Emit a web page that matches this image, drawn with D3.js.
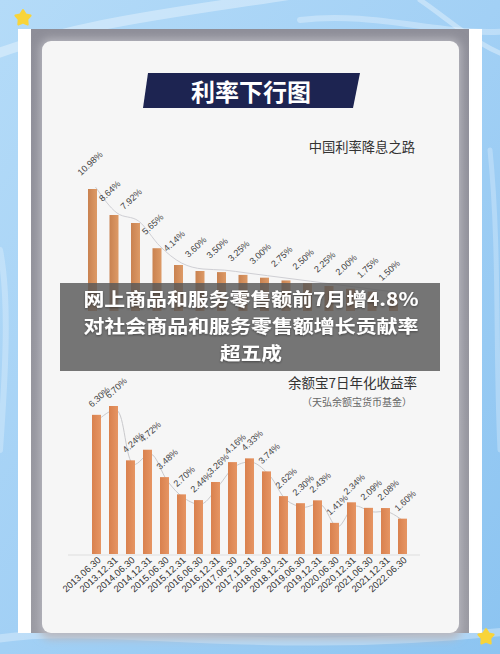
<!DOCTYPE html>
<html><head><meta charset="utf-8">
<script src="https://cdn.jsdelivr.net/npm/d3@7"></script>
<style>html,body{margin:0;padding:0;background:#a9d4f6;}svg{display:block;}</style>
</head><body>
<script>
// ---- data ----
const rateTitle = "中国利率降息之路";
const rateValues = [10.98, 8.64, 7.92, 5.65, 4.14, 3.60, 3.50, 3.25, 3.00, 2.75, 2.50, 2.25, 2.00, 1.75, 1.50];
const yebTitle = "余额宝7日年化收益率";
const yebSubtitle = "（天弘余额宝货币基金）";
const yebDates = ["2013.06.30","2013.12.31","2014.06.30","2014.12.31","2015.06.30","2015.12.31","2016.06.30","2016.12.31","2017.06.30","2017.12.31","2018.06.30","2018.12.31","2019.06.30","2019.12.31","2020.06.30","2020.12.31","2021.06.30","2021.12.31","2022.06.30"];
const yebValues = [6.30, 6.70, 4.24, 4.72, 3.48, 2.70, 2.44, 3.26, 4.16, 4.33, 3.74, 2.62, 2.30, 2.43, 1.41, 2.34, 2.09, 2.08, 1.60];
const bannerText = "利率下行图";
const overlayLines = ["网上商品和服务零售额前7月增4.8%", "对社会商品和服务零售额增长贡献率", "超五成"];
const overlayWidths = [335, 335, 62];

const W = 500, H = 654;
const svg = d3.select("body").append("svg").attr("width", W).attr("height", H);
const defs = svg.append("defs");

// background gradient
const bg = defs.append("linearGradient").attr("id","bg").attr("x1",0).attr("y1",0).attr("x2",1).attr("y2",1);
bg.append("stop").attr("offset","0%").attr("stop-color","#b4dbf8");
bg.append("stop").attr("offset","50%").attr("stop-color","#a2d0f5");
bg.append("stop").attr("offset","100%").attr("stop-color","#8cc4f1");
svg.append("rect").attr("width",W).attr("height",H).attr("fill","url(#bg)");
// streaks
const streaks = svg.append("g").attr("fill","none").attr("stroke","#ffffff").attr("stroke-linecap","round");
[["M-20,60 C80,20 200,10 320,-10",0.35,10],["M300,20 C380,10 450,40 520,30",0.3,6],["M420,0 C450,20 480,50 520,60",0.35,5],
 ["M-10,640 C100,620 250,660 520,630",0.3,8],["M0,250 C10,300 5,380 0,450",0.25,6],["M490,150 C500,250 495,350 500,450",0.25,5]]
 .forEach(([d,o,w])=>streaks.append("path").attr("d",d).attr("stroke-opacity",o).attr("stroke-width",w));

// white card
svg.append("rect").attr("x",18).attr("y",29).attr("width",464).attr("height",604).attr("fill","#ffffff");
// gray frame
const fr = defs.append("linearGradient").attr("id","frame").attr("x1",0).attr("y1",0).attr("x2",0).attr("y2",1);
fr.append("stop").attr("offset","0%").attr("stop-color","#8e8e98");
fr.append("stop").attr("offset","100%").attr("stop-color","#9a9aa2");
svg.append("rect").attr("x",31).attr("y",29).attr("width",438).attr("height",604).attr("fill","url(#frame)");
const sh = defs.append("filter").attr("id","sh").attr("x","-10%").attr("y","-10%").attr("width","120%").attr("height","120%");
sh.append("feGaussianBlur").attr("stdDeviation",4);
svg.append("rect").attr("x",40).attr("y",39).attr("width",421).attr("height",600).attr("rx",10).attr("fill","#b8b8c0").attr("filter","url(#sh)");
svg.append("rect").attr("x",42).attr("y",41).attr("width",417).attr("height",592).attr("rx",9).attr("fill","#f6f6f6");

// stars
function starPath(cx, cy, R, r) {
  const pts = d3.range(10).map(i => {
    const a = -Math.PI/2 + i*Math.PI/5, rad = i%2 ? r : R;
    return [cx + rad*Math.cos(a), cy + rad*Math.sin(a)];
  });
  return d3.line().curve(d3.curveLinearClosed)(pts);
}
svg.append("path").attr("d",starPath(23,18,8,4.5)).attr("fill","#f8d43a").attr("stroke","#f8d43a").attr("stroke-width",2).attr("stroke-linejoin","round");
svg.append("path").attr("d",starPath(486,637,8,4.5)).attr("fill","#f8d43a").attr("stroke","#f8d43a").attr("stroke-width",2).attr("stroke-linejoin","round");

// banner
svg.append("path").attr("d","M148,73 L360,73 L353,108 L143,108 Z").attr("fill","#1d2451");
svg.append("text").attr("x",251).attr("y",101).attr("text-anchor","middle")
  .attr("font-family","'Noto Sans CJK SC'").attr("font-weight",700).attr("font-size",24)
  .attr("fill","#ffffff").text(bannerText);

const FONT = "'Liberation Sans', Arial, sans-serif";
const CJK = "'Noto Sans CJK SC', sans-serif";

function barGrad(id, c1, c2) {
  const g = defs.append("linearGradient").attr("id",id).attr("x1",0).attr("y1",0).attr("x2",1).attr("y2",0);
  g.append("stop").attr("offset","0%").attr("stop-color",c1);
  g.append("stop").attr("offset","100%").attr("stop-color",c2);
}
barGrad("bar1","#c98250","#dd9a66");
barGrad("bar2","#d9814e","#e69563");

// ---- chart 1 ----
const g1 = svg.append("g");
g1.append("text").attr("x",415).attr("y",152).attr("text-anchor","end").attr("font-family",CJK)
  .attr("font-size",13.3).attr("fill","#333").text(rateTitle);
const x1 = d3.scalePoint().domain(d3.range(rateValues.length)).range([92.5, 393.5]);
const y1 = d3.scaleLinear().domain([0, 10.98]).range([311, 189]);
const bw = 9;
g1.append("path").datum(rateValues)
  .attr("d", d3.line().x((d,i)=>x1(i)+3).y(d=>y1(d)-2).curve(d3.curveMonotoneX))
  .attr("fill","none").attr("stroke","#cfcfd4").attr("stroke-width",1);
g1.selectAll("rect.b").data(rateValues).join("rect")
  .attr("x",(d,i)=>x1(i)-bw/2).attr("width",bw)
  .attr("y",d=>y1(d)).attr("height",d=>y1(0)-y1(d)).attr("fill","url(#bar1)");
g1.selectAll("text.v").data(rateValues).join("text")
  .attr("transform",(d,i)=>`translate(${x1(i)-bw/2-7},${y1(d)-13}) rotate(-43)`)
  .attr("font-family",FONT).attr("font-size",9).attr("fill","#444")
  .text(d=>d.toFixed(2)+"%");

// ---- chart 2 ----
const g2 = svg.append("g");
g2.append("text").attr("x",417).attr("y",388).attr("text-anchor","end").attr("font-family",CJK)
  .attr("font-size",13.5).attr("fill","#333").text(yebTitle);
g2.append("text").attr("x",412).attr("y",406).attr("text-anchor","end").attr("font-family",CJK)
  .attr("font-size",10).attr("fill","#666").text(yebSubtitle);
const x2 = d3.scalePoint().domain(yebDates).range([96.5, 402.5]);
const y2 = d3.scaleLinear().domain([0, 6.70]).range([554, 406]);
g2.append("line").attr("x1",68).attr("x2",420).attr("y1",555).attr("y2",555).attr("stroke","#dedede").attr("stroke-width",1);
g2.append("path").datum(yebValues)
  .attr("d", d3.line().x((d,i)=>x2(yebDates[i])+3).y(d=>y2(d)+4).curve(d3.curveCatmullRom))
  .attr("fill","none").attr("stroke","#c9c9cc").attr("stroke-width",1);
g2.selectAll("rect.b").data(yebValues).join("rect")
  .attr("x",(d,i)=>x2(yebDates[i])-bw/2).attr("width",bw)
  .attr("y",d=>y2(d)).attr("height",d=>y2(0)-y2(d)).attr("fill","url(#bar2)");
g2.selectAll("text.v").data(yebValues).join("text")
  .attr("transform",(d,i)=>`translate(${x2(yebDates[i])-bw/2},${y2(d)-7}) rotate(-43)`)
  .attr("font-family",FONT).attr("font-size",9).attr("fill","#444")
  .text(d=>d.toFixed(2)+"%");
g2.selectAll("text.d").data(yebDates).join("text")
  .attr("transform",d=>`translate(${x2(d)+5},${561}) rotate(-42)`)
  .attr("text-anchor","end").attr("font-family",FONT).attr("font-size",9.5).attr("fill","#333")
  .text(d=>d);

// ---- overlay ----
svg.append("rect").attr("x",60).attr("y",283).attr("width",380).attr("height",88).attr("fill","rgba(88,88,88,0.82)");
const tsh = defs.append("filter").attr("id","tsh");
tsh.append("feDropShadow").attr("dx",0).attr("dy",1).attr("stdDeviation",1).attr("flood-color","#000").attr("flood-opacity",0.4);
svg.selectAll("text.ov").data(overlayLines).join("text")
  .attr("x",(d,i)=>251 - overlayWidths[i]/2).attr("y",(d,i)=>306+i*27)
  .attr("textLength",(d,i)=>overlayWidths[i]).attr("lengthAdjust","spacingAndGlyphs")
  .attr("font-family",CJK).attr("font-weight",700).attr("font-size",18.4)
  .attr("fill","#ffffff").attr("filter","url(#tsh)").text(d=>d);
</script>
</body></html>
